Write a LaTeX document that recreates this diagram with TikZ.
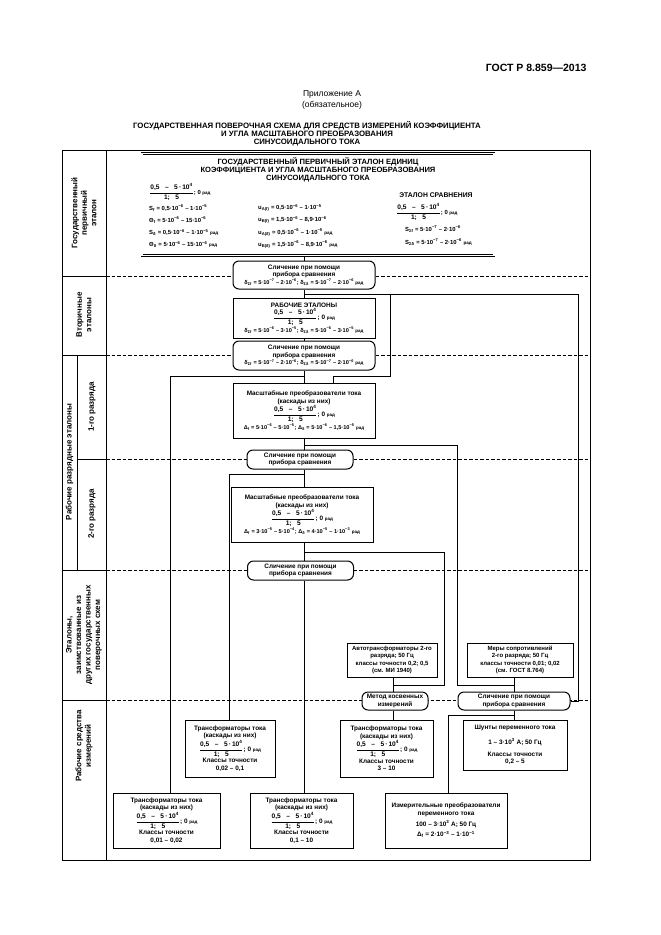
\documentclass[tikz,border=0pt]{standalone}
\usepackage{amsmath}
\usepackage{fontspec}
\setmainfont{Liberation Sans}
\usetikzlibrary{calc}

\newcommand\fs[2]{\fontsize{#1}{#2}\selectfont}
\newcommand\supx[1]{\textsuperscript{#1}}
\newcommand\subx[1]{\textsubscript{#1}}
\newcommand\fml[1]{{\fs{5.6}{7.4}#1}}
\newcommand\radu{{\fs{4.5}{5}рад}}
\newcommand\scalefrac{$\dfrac{\text{\fs{6.6}{7}0,5 \ \ – \ \ 5\,·\,10\supx{4}}}{\text{\fs{6.6}{7}1; \ \ 5}}$}

\tikzset{%
  stdbox/.style = {draw, line width=1pt, fill=white, align=center,%
                   inner sep=1pt, font=\bfseries\fs{6.4}{7.6}},%
  cmpbox/.style = {stdbox, rounded corners=6pt},%
  rank/.style   = {rotate=90, align=center, font=\bfseries\fs{8}{9.5}},%
  txt/.style    = {anchor=west, inner sep=0pt, font=\bfseries\fs{5.9}{7}},%
  sep/.style    = {line width=0.9pt, dash pattern=on 3.5pt off 2pt},%
  link/.style   = {line width=0.8pt}%
}

\begin{document}
\begin{tikzpicture}[x=1pt,y=-1pt]
\useasboundingbox (0,0) rectangle (661,935);
% heading
\node[anchor=east, font=\bfseries\fs{10.5}{12}] (gost) at (590,68) {ГОСТ Р 8.859—2013};
\node[align=center, font=\fs{8.5}{11}] (annex) at (332,100) {Приложение А\\(обязательное)};
\node[align=center, font=\bfseries\fs{7.8}{8.2}] (heading) at (307,134)
  {ГОСУДАРСТВЕННАЯ ПОВЕРОЧНАЯ СХЕМА ДЛЯ СРЕДСТВ ИЗМЕРЕНИЙ  КОЭФФИЦИЕНТА\\
   И УГЛА МАСШТАБНОГО ПРЕОБРАЗОВАНИЯ\\СИНУСОИДАЛЬНОГО ТОКА};

% frame, left column, level separators
\draw[line width=1pt] (62,150) rectangle (590,860);
\draw[line width=1pt] (106,150) -- (106,860);
\draw[line width=1pt] (77,355) -- (77,570);
\foreach \y in {276,355,570,700} \draw[line width=1pt] (62,\y) -- (106,\y);
\draw[line width=1pt] (77,459) -- (106,459);
\foreach \y in {276,355,459,570,700} \draw[sep] (106,\y) -- (590,\y);

\node[rank] (lvprim) at (84,213) {Государственный\\первичный\\эталон};
\node[rank] (lvsec)  at (84,315) {Вторичные\\эталоны};
\node[rank] (lvrank) at (69.5,462) {Рабочие разрядные эталоны};
\node[rank] (lvone)  at (92,407) {1-го разряда};
\node[rank] (lvtwo)  at (92,514) {2-го разряда};
\node[rank] (lvborr) at (84,635) {Эталоны,\\заимствованные из\\других государственных\\поверочных схем};
\node[rank] (lvwork) at (84,746) {Рабочие средства\\измерений};

% primary standard
\node[draw, double, double distance=1.4pt, line width=0.7pt, inner sep=0pt,
      minimum width=352, minimum height=102] (prim) at (318,204.5) {};
\node[align=center, font=\bfseries\fs{7.6}{8}] (primtitle) at (318,170)
  {ГОСУДАРСТВЕННЫЙ ПЕРВИЧНЫЙ ЭТАЛОН ЕДИНИЦ\\
   КОЭФФИЦИЕНТА И УГЛА  МАСШТАБНОГО  ПРЕОБРАЗОВАНИЯ\\СИНУСОИДАЛЬНОГО ТОКА};
\node[txt] (primfrac) at (149,192) {\scalefrac; 0 \radu};
\node[txt] (sf)  at (149,208) {S\subx{f} = 0,5·10\supx{−6} – 1·10\supx{−5}};
\node[txt] (tf)  at (149,220) {Θ\subx{f} = 5·10\supx{−6} – 15·10\supx{−6}};
\node[txt] (sd)  at (149,232.5) {S\subx{δ} = 0,5·10\supx{−6} – 1·10\supx{−5} \radu};
\node[txt] (td)  at (149,244.5) {Θ\subx{δ} = 5·10\supx{−6} – 15·10\supx{−6} \radu};
\node[txt] (uaf) at (258,208) {u\subx{A(f)} = 0,5·10\supx{−6} – 1·10\supx{−5}};
\node[txt] (ubf) at (258,220) {u\subx{B(f)} = 1,5·10\supx{−6} – 8,9·10\supx{−6}};
\node[txt] (uad) at (258,232.5) {u\subx{A(δ)} = 0,5·10\supx{−6} – 1·10\supx{−5} \radu};
\node[txt] (ubd) at (258,244.5) {u\subx{B(δ)} = 1,5·10\supx{−6} – 8,9·10\supx{−6} \radu};
\node[font=\bfseries\fs{6.8}{7}] (cmpstd) at (436,195) {ЭТАЛОН СРАВНЕНИЯ};
\node[txt] (cmpfrac) at (396,212) {\scalefrac; 0 \radu};
\node[txt] (ssf) at (405,229) {S\subx{Σf} = 5·10\supx{−7} – 2·10\supx{−6}};
\node[txt] (ssd) at (405,242) {S\subx{Σδ} = 5·10\supx{−7} – 2·10\supx{−6} \radu};

% secondary and rank standards
\node[cmpbox, minimum width=142, minimum height=28] (cmpA) at (304,275)
  {Сличение при помощи\\прибора сравнения\\
   \fml{δ\subx{Σf} = 5·10\supx{−7} – 2·10\supx{−6}; δ\subx{Σδ} = 5·10\supx{−7} – 2·10\supx{−6} \radu}};
\node[stdbox, minimum width=142, minimum height=40] (ws) at (304,318)
  {РАБОЧИЕ ЭТАЛОНЫ\\\scalefrac; 0 \radu\\
   \fml{δ\subx{Σf} = 5·10\supx{−6} – 3·10\supx{−5}; δ\subx{Σδ} = 5·10\supx{−6} – 3·10\supx{−5} \radu}};
\node[cmpbox, minimum width=142, minimum height=29] (cmpB) at (304,355.5)
  {Сличение при помощи\\прибора сравнения\\
   \fml{δ\subx{Σf} = 5·10\supx{−7} – 2·10\supx{−6}; δ\subx{Σδ} = 5·10\supx{−7} – 2·10\supx{−6} \radu}};
\node[stdbox, minimum width=142, minimum height=55] (rk1) at (304,410.5)
  {Масштабные преобразователи тока\\(каскады из них)\\\scalefrac; 0 \radu\\
   \fml{Δ\subx{f} = 5·10\supx{−6} – 5·10\supx{−5}; Δ\subx{δ} = 5·10\supx{−6} – 1,5·10\supx{−5} \radu}};
\node[cmpbox, minimum width=106, minimum height=19] (cmpC) at (300,459.5)
  {Сличение при помощи\\прибора сравнения};
\node[stdbox, minimum width=142, minimum height=55] (rk2) at (302,514.5)
  {Масштабные преобразователи тока\\(каскады из них)\\\scalefrac; 0 \radu\\
   \fml{Δ\subx{f} = 3·10\supx{−5} – 5·10\supx{−4}; Δ\subx{δ} = 4·10\supx{−5} – 1·10\supx{−3} \radu}};
\node[cmpbox, minimum width=106, minimum height=19] (cmpD) at (300.5,570.5)
  {Сличение при помощи\\прибора сравнения};

% borrowed standards
\node[stdbox, minimum width=90, minimum height=34, font=\bfseries\fs{6}{7.3}] (auto) at (392,660)
  {Автотрансформаторы 2-го\\разряда; 50 Гц\\классы точности 0,2; 0,5\\(см. МИ 1940)};
\node[stdbox, minimum width=106, minimum height=34, font=\bfseries\fs{6}{7.3}] (mery) at (520,660)
  {Меры сопротивлений\\2-го разряда; 50 Гц\\классы точности 0,01; 0,02\\(см. ГОСТ 8.764)};
\node[cmpbox, minimum width=66, minimum height=18] (metod) at (395,701)
  {Метод косвенных\\измерений};
\node[cmpbox, minimum width=112, minimum height=18] (cmpE) at (514,701)
  {Сличение при помощи\\прибора сравнения};

% working measuring instruments
\node[stdbox, minimum width=90, minimum height=57] (tr2) at (230,748.5)
  {Трансформаторы тока\\(каскады из них)\\\scalefrac; 0 \radu\\Классы точности\\0,02 – 0,1};
\node[stdbox, minimum width=93, minimum height=57] (tr4) at (386.5,748.5)
  {Трансформаторы тока\\(каскады из них)\\\scalefrac; 0 \radu\\Классы точности\\3 – 10};
\node[stdbox, minimum width=104, minimum height=50] (shunt) at (515,745)
  {Шунты переменного тока\\[7pt]1 – 3·10\supx{3} А; 50 Гц\\[4pt]Классы точности\\0,2 – 5};
\node[stdbox, minimum width=107, minimum height=55] (tr1) at (166.5,820.5)
  {Трансформаторы тока\\(каскады из них)\\\scalefrac; 0 \radu\\Классы точности\\0,01 – 0,02};
\node[stdbox, minimum width=103, minimum height=55] (tr3) at (301.5,820.5)
  {Трансформаторы тока\\(каскады из них)\\\scalefrac; 0 \radu\\Классы точности\\0,1 – 10};
\node[stdbox, minimum width=122, minimum height=55] (conv) at (446,820.5)
  {Измерительные преобразователи\\переменного тока\\[3pt]100 – 3·10\supx{3} А; 50 Гц\\[3pt]
   Δ\subx{f} = 2·10\supx{−3} – 1·10\supx{−1}};

% connections
\coordinate (jA) at (304,294);
\coordinate (kA) at (390,294);
\coordinate (kB) at (390,376);
\coordinate (kC) at (333,376);
\coordinate (kR) at (578,294);
\coordinate (jB) at (304,376);
\coordinate (kD) at (170,376);
\coordinate (jC) at (304,445);
\coordinate (kE) at (457,445);
\coordinate (kF) at (457,685);
\coordinate (jG) at (514,685);
\coordinate (jD) at (304,474);
\coordinate (kG) at (229,474);
\coordinate (jE) at (304,552);
\coordinate (kH) at (444,552);
\coordinate (kI) at (444,685);
\coordinate (jH) at (393,685);
\coordinate (jF) at (514,715);
\coordinate (kJ) at (448,715);

\draw[link] (prim.south -| cmpA.north) -- (cmpA.north);
\draw[link] (cmpA) -- (ws);
\draw[link] (ws) -- (cmpB);
\draw[link] (cmpB) -- (rk1);
\draw[link] (jA) -- (kA) -- (kB) -- (kC) -- (kC |- rk1.north);
\draw[link] (kA) -- (kR) |- (cmpE.east);
\draw[link] (jB) -- (kD) -- (kD |- tr1.north);
\draw[link] (rk1.south) -- (rk1.south |- cmpC.north);
\draw[link] (jC) -- (kE) -- (kF) -- (jG);
\draw[link] (cmpC.south -| jD) -- (jD |- rk2.north);
\draw[link] (jD) -- (kG) -- (kG |- tr2.north);
\draw[link] (rk2.south -| jE) -- (jE |- cmpD.north);
\draw[link] (jE) -- (kH) -- (kI) -- (jH);
\draw[link] (cmpD.south -| jE) -- (jE |- tr3.north);
\draw[link] (auto.south -| jH) -- (jH |- metod.north);
\draw[link] (metod.south -| jH) -- (jH |- tr4.north);
\draw[link] (mery.south -| jG) -- (jG |- cmpE.north);
\draw[link] (cmpE.south -| jF) -- (jF |- shunt.north);
\draw[link] (jF) -- (kJ) -- (kJ |- conv.north);
\end{tikzpicture}
\end{document}
